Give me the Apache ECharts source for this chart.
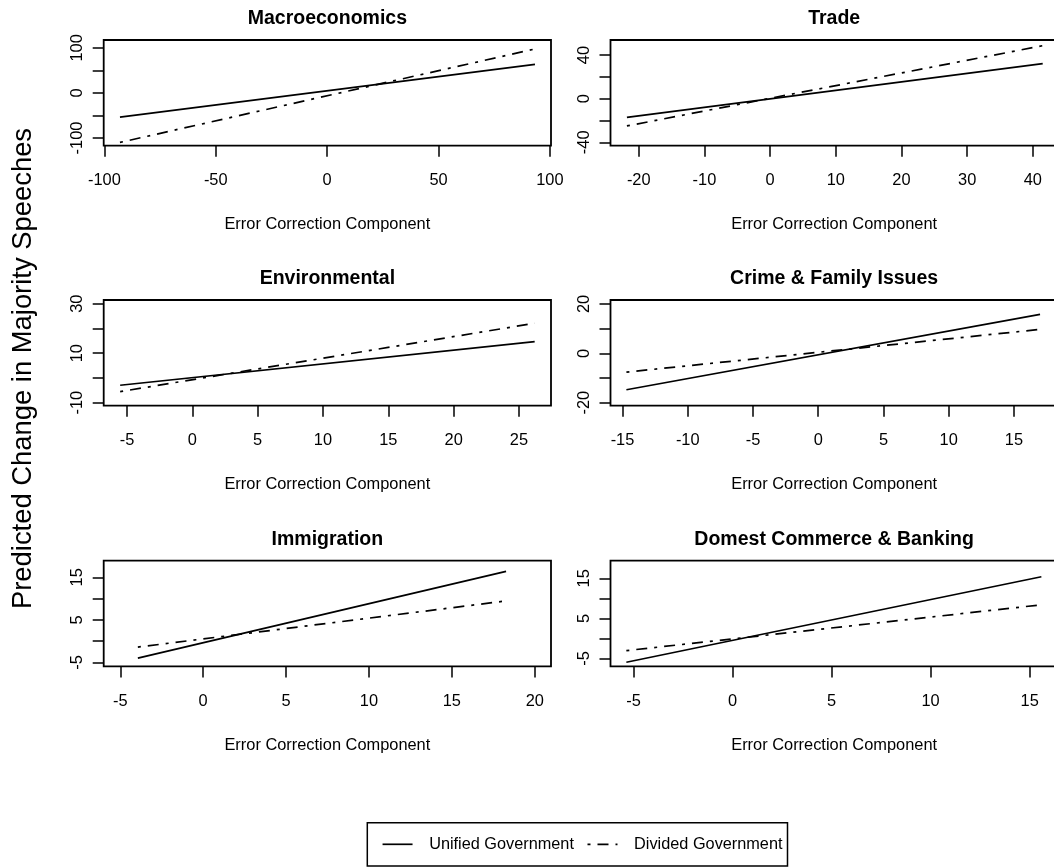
<!DOCTYPE html>
<html>
<head>
<meta charset="utf-8">
<script src="https://cdn.jsdelivr.net/npm/echarts@6/dist/echarts.min.js"></script>
<style>
  html, body { margin: 0; padding: 0; background: #ffffff; }
  #chart { width: 1054px; height: 867px; }
</style>
</head>
<body>
<div id="chart"></div>
<script>
// Policy topics, one panel each
const topics = ['Macroeconomics', 'Trade', 'Environmental', 'Crime & Family Issues',
                'Immigration', 'Domest Commerce & Banking'];

// Error correction component at the two ends of each fitted line
const ecmEnds = [[-93.0, 93.3], [-21.8, 41.5], [-5.52, 26.2], [-14.7, 17.0], [-3.94, 18.27], [-5.36, 15.59]];
// Predicted change in majority speeches at those ends
const unifiedEnds = [[-53.6, 63.4], [-17.1, 32.1], [-2.95, 14.7], [-14.75, 15.8], [-3.98, 16.4], [-5.97, 15.4]];
const dividedEnds = [[-109.7, 97.5], [-25.0, 48.6], [-5.5, 22.1], [-7.6, 9.7], [-1.4, 9.44], [-3.06, 8.38]];

// Axis extents (plot box edges) per panel
const xLimits = [[-100.3, 100.5], [-24.3, 43.8], [-6.78, 27.45], [-15.92, 18.36], [-6.0, 20.98], [-6.16, 16.42]];
const yLimits = [[-117.0, 117.4], [-43.1, 53.8], [-11.2, 31.5], [-21.2, 21.6], [-5.94, 18.9], [-7.0, 19.4]];

// Tick marks and labelled ticks
const xTicks = [[-100, -50, 0, 50, 100], [-20, -10, 0, 10, 20, 30, 40], [-5, 0, 5, 10, 15, 20, 25],
                [-15, -10, -5, 0, 5, 10, 15], [-5, 0, 5, 10, 15, 20], [-5, 0, 5, 10, 15]];
const yTicks = [[-100, -50, 0, 50, 100], [-40, -20, 0, 20, 40], [-10, 0, 10, 20, 30],
                [-20, -10, 0, 10, 20], [-5, 0, 5, 10, 15], [-5, 0, 5, 10, 15]];
const yTickLabels = [[-100, 0, 100], [-40, 0, 40], [-10, 10, 30], [-20, 0, 20], [-5, 5, 15], [-5, 5, 15]];

const seriesNames = ['Unified Government', 'Divided Government'];
const xTitle = 'Error Correction Component';
const yTitle = 'Predicted Change in Majority Speeches';

// ---- layout ----
const FONT = "'Liberation Sans', Arial, Helvetica, sans-serif";
const colLeft = [103.7, 610.5];
const rowTop = [40, 300, 560.7];
const boxW = 447.3, boxH = 105.7;
const dotDash = [3, 7, 11, 7];

const grids = [], xAxes = [], yAxes = [], titles = [], series = [];

topics.forEach((name, i) => {
  const col = i % 2, row = Math.floor(i / 2);
  const left = colLeft[col], top = rowTop[row];

  grids.push({
    left: left, top: top, width: boxW, height: boxH,
    show: true, borderColor: '#000', borderWidth: 1.8, backgroundColor: 'transparent',
    containLabel: false, outerBoundsMode: 'none'
  });

  titles.push({
    text: name, left: left + boxW / 2, top: top - 31.2, textAlign: 'center', padding: 0,
    textStyle: { fontFamily: FONT, fontSize: 19.5, fontWeight: 'bold', color: '#000', lineHeight: 20 }
  });

  xAxes.push({
    type: 'value', gridIndex: i, min: xLimits[i][0], max: xLimits[i][1],
    position: 'bottom',
    axisLine: { show: false, onZero: false },
    splitLine: { show: false },
    axisTick: { show: true, length: 11, inside: false, customValues: xTicks[i],
                lineStyle: { color: '#000', width: 1.5 } },
    axisLabel: { show: true, customValues: xTicks[i], margin: 27, color: '#000',
                 fontFamily: FONT, fontSize: 16.4, lineHeight: 16.4, hideOverlap: false },
    name: xTitle, nameLocation: 'middle', nameGap: 71, nameMoveOverlap: false,
    nameTextStyle: { fontFamily: FONT, fontSize: 16.4, color: '#000', lineHeight: 16.4 }
  });

  yAxes.push({
    type: 'value', gridIndex: i, min: yLimits[i][0], max: yLimits[i][1],
    position: 'left',
    axisLine: { show: false, onZero: false },
    splitLine: { show: false },
    axisTick: { show: true, length: 11, inside: false, customValues: yTicks[i],
                lineStyle: { color: '#000', width: 1.5 } },
    axisLabel: { show: true, customValues: yTickLabels[i], rotate: 90, margin: 18, color: '#000',
                 fontFamily: FONT, fontSize: 16.4, lineHeight: 16.4, hideOverlap: false }
  });

  series.push({
    name: seriesNames[0], type: 'line', xAxisIndex: i, yAxisIndex: i,
    symbol: 'none', showSymbol: false, silent: true,
    itemStyle: { color: '#000' },
    data: [[ecmEnds[i][0], unifiedEnds[i][0]], [ecmEnds[i][1], unifiedEnds[i][1]]],
    lineStyle: { color: '#000', width: 1.7, type: 'solid' }
  });
  series.push({
    name: seriesNames[1], type: 'line', xAxisIndex: i, yAxisIndex: i,
    symbol: 'none', showSymbol: false, silent: true,
    itemStyle: { color: '#000' },
    data: [[ecmEnds[i][0], dividedEnds[i][0]], [ecmEnds[i][1], dividedEnds[i][1]]],
    lineStyle: { color: '#000', width: 1.7, type: dotDash }
  });
});

const chart = echarts.init(document.getElementById('chart'), null, { renderer: 'canvas' });
chart.setOption({
  animation: false,
  backgroundColor: '#fff',
  title: titles,
  grid: grids,
  xAxis: xAxes,
  yAxis: yAxes,
  series: series,
  legend: {
    data: seriesNames,
    selectedMode: false,
    left: 367.3, top: 822.7,
    orient: 'horizontal',
    itemWidth: 30, itemHeight: 14, itemGap: 12.7,
    padding: [13.6, 5, 13.6, 14.4],
    borderColor: '#000', borderWidth: 1.5,
    itemStyle: { opacity: 0, borderWidth: 0 },
    lineStyle: { color: '#000', width: 1.7 },
    textStyle: { fontFamily: FONT, fontSize: 16.3, color: '#000', lineHeight: 16, padding: [0, 0, 0, 11.6] }
  },
  graphic: [{
    type: 'text', x: 23, y: 368.5, rotation: Math.PI / 2, silent: true,
    style: { text: yTitle, fontFamily: FONT, fontSize: 27.4, fill: '#000', align: 'center', verticalAlign: 'middle' }
  }]
});
</script>
</body>
</html>
